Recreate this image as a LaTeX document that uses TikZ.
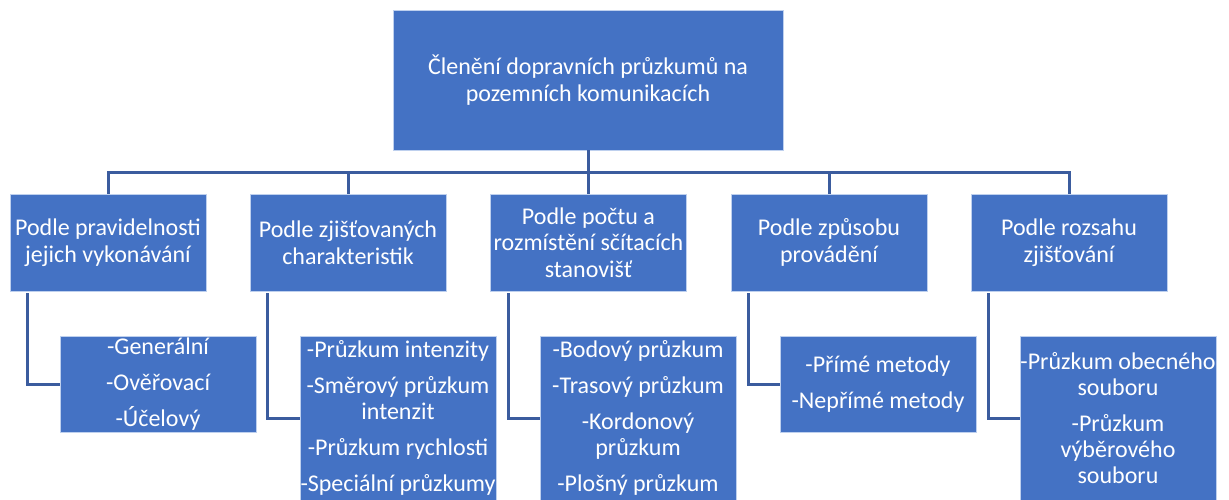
\documentclass[tikz,border=0pt]{standalone}
\usepackage{fontspec}
\setmainfont{Carlito}
\definecolor{boxblue}{RGB}{68,114,196}
\definecolor{lineblue}{RGB}{59,92,158}
\definecolor{edgeblue}{RGB}{190,208,238}
\begin{document}
\begin{tikzpicture}[x=1pt,y=-1pt,
  box/.style={rectangle,fill=boxblue,draw=edgeblue,line width=0.8pt,text=white,
    align=center,inner sep=0pt,minimum width=196pt},
  topbox/.style={box,minimum width=390pt,minimum height=140pt,font=\fontsize{24}{26.5}\selectfont},
  lvone/.style={box,minimum height=97pt,font=\fontsize{24}{26.5}\selectfont},
  lvtwo/.style={box,font=\fontsize{24}{26}\selectfont},
  conn/.style={draw=lineblue,line width=3pt,line join=miter}]
\useasboundingbox (0,0) rectangle (1229,500);
\node[topbox] (t) at (588,80) {Členění dopravních průzkumů na\\pozemních komunikacích};
\node[lvone] (a1) at (108,242.5) {Podle pravidelnosti\\jejich vykonávání};
\node[lvone] (a2) at (348,242.5) {Podle zjišťovaných\\charakteristik};
\node[lvone] (a3) at (588.5,242.5) {Podle počtu a\\rozmístění sčítacích\\stanovišť};
\node[lvone] (a4) at (829,242.5) {Podle způsobu\\provádění};
\node[lvone] (a5) at (1069,242.5) {Podle rozsahu\\zjišťování};
\node[lvtwo,minimum height=96pt] (b1) at (158,384) {-Generální\\[10pt]-Ověřovací\\[10pt]-Účelový};
\node[lvtwo,minimum height=164pt] (b2) at (398,418) {-Průzkum intenzity\\[10pt]-Směrový průzkum\\intenzit\\[10pt]-Průzkum rychlosti\\[10pt]-Speciální průzkumy};
\node[lvtwo,minimum height=164pt] (b3) at (638,418) {-Bodový průzkum\\[10pt]-Trasový průzkum\\[10pt]-Kordonový\\průzkum\\[10pt]-Plošný průzkum};
\node[lvtwo,minimum height=96pt] (b4) at (878,384) {-Přímé metody\\[10pt]-Nepřímé metody};
\node[lvtwo,minimum height=164pt] (b5) at (1118,418) {-Průzkum obecného\\souboru\\[10pt]-Průzkum\\výběrového\\souboru};
\foreach \n in {a1,a2,a3,a4,a5}{
  \draw[conn] (t.south) -- ++(0,22) -| (\n.north);
}
\foreach \p/\c in {a1/b1,a2/b2,a3/b3,a4/b4,a5/b5}{
  \draw[conn] ([xshift=18pt,yshift=-2pt]\p.south west) |- (\c.west);
}
\end{tikzpicture}
\end{document}
